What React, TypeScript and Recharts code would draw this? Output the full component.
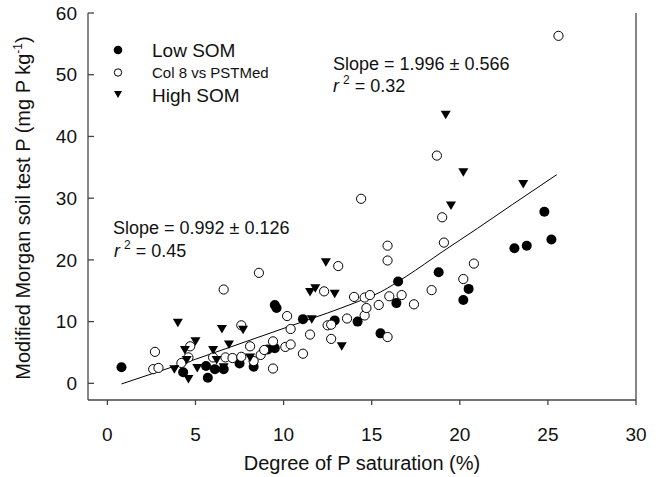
import React from 'react';
import { ScatterChart, Scatter, XAxis, YAxis, Legend } from 'recharts';

// Low SOM (filled circles)
const lowSom = [
  { x: 0.8, y: 2.6 }, { x: 4.3, y: 1.8 }, { x: 5.6, y: 2.8 }, { x: 5.7, y: 0.9 },
  { x: 6.1, y: 2.3 }, { x: 6.6, y: 2.3 }, { x: 7.5, y: 3.2 }, { x: 8.3, y: 2.7 },
  { x: 9.1, y: 5.5 }, { x: 9.5, y: 5.7 }, { x: 9.5, y: 12.7 }, { x: 9.6, y: 12.2 },
  { x: 11.1, y: 10.4 }, { x: 12.9, y: 10.2 }, { x: 14.2, y: 10.0 }, { x: 15.5, y: 8.1 },
  { x: 16.4, y: 13.0 }, { x: 16.5, y: 16.5 }, { x: 18.8, y: 18.0 }, { x: 20.2, y: 13.5 },
  { x: 20.5, y: 15.3 }, { x: 23.1, y: 21.9 }, { x: 23.8, y: 22.3 }, { x: 24.8, y: 27.8 },
  { x: 25.2, y: 23.3 },
];

// Col 8 vs PSTMed (open circles)
const col8 = [
  { x: 2.6, y: 2.3 }, { x: 2.7, y: 5.1 }, { x: 2.9, y: 2.5 }, { x: 4.2, y: 3.3 },
  { x: 4.6, y: 4.2 }, { x: 4.7, y: 6.0 }, { x: 6.0, y: 4.2 }, { x: 6.6, y: 15.2 },
  { x: 6.7, y: 4.2 }, { x: 7.1, y: 4.1 }, { x: 7.6, y: 4.3 }, { x: 7.6, y: 9.4 },
  { x: 8.1, y: 6.0 }, { x: 8.3, y: 3.6 }, { x: 8.6, y: 17.9 }, { x: 8.7, y: 4.6 },
  { x: 8.9, y: 5.4 }, { x: 9.4, y: 6.8 }, { x: 9.4, y: 2.4 }, { x: 10.1, y: 5.9 },
  { x: 10.2, y: 10.9 }, { x: 10.4, y: 6.3 }, { x: 10.4, y: 8.8 }, { x: 11.1, y: 4.8 },
  { x: 11.5, y: 7.9 }, { x: 12.3, y: 14.9 }, { x: 12.5, y: 9.4 }, { x: 12.7, y: 9.5 },
  { x: 12.7, y: 7.2 }, { x: 13.1, y: 19.0 }, { x: 13.6, y: 10.5 }, { x: 14.0, y: 14.0 },
  { x: 14.4, y: 29.9 }, { x: 14.6, y: 13.9 }, { x: 14.6, y: 11.0 }, { x: 14.7, y: 12.2 },
  { x: 14.9, y: 14.3 }, { x: 15.4, y: 12.7 }, { x: 15.9, y: 22.3 }, { x: 15.9, y: 19.9 },
  { x: 15.9, y: 7.5 }, { x: 16.0, y: 14.1 }, { x: 16.7, y: 14.3 }, { x: 17.4, y: 12.8 },
  { x: 18.4, y: 15.1 }, { x: 18.7, y: 36.9 }, { x: 19.0, y: 26.9 }, { x: 19.1, y: 22.8 },
  { x: 20.2, y: 16.9 }, { x: 20.8, y: 19.4 }, { x: 25.6, y: 56.3 },
];

// High SOM (down triangles)
const highSom = [
  { x: 3.8, y: 2.3 }, { x: 4.0, y: 9.8 }, { x: 4.4, y: 5.4 }, { x: 4.5, y: 3.8 },
  { x: 4.6, y: 0.7 }, { x: 5.0, y: 6.8 }, { x: 5.1, y: 2.5 }, { x: 6.0, y: 5.4 },
  { x: 6.2, y: 3.8 }, { x: 6.5, y: 8.8 }, { x: 6.6, y: 2.6 }, { x: 6.9, y: 6.3 },
  { x: 7.7, y: 8.7 }, { x: 8.1, y: 4.2 }, { x: 11.5, y: 14.8 }, { x: 11.6, y: 10.4 },
  { x: 11.8, y: 15.4 }, { x: 12.4, y: 19.6 }, { x: 12.9, y: 14.5 }, { x: 13.3, y: 6.0 },
  { x: 19.2, y: 43.5 }, { x: 19.5, y: 28.8 }, { x: 20.2, y: 34.2 }, { x: 23.6, y: 32.3 },
];

// fitted segmented regression curve
const fitLine = [
  { x: 0.8, y: -0.1 }, { x: 3, y: 2.0 }, { x: 5, y: 3.9 }, { x: 7, y: 5.9 },
  { x: 9, y: 7.9 }, { x: 11, y: 9.9 }, { x: 12.5, y: 11.4 }, { x: 14, y: 13.0 },
  { x: 15.5, y: 14.8 }, { x: 17, y: 17.4 }, { x: 19, y: 21.3 }, { x: 21, y: 25.1 },
  { x: 23, y: 29.0 }, { x: 25.5, y: 33.8 },
];

const xTicks = [0, 5, 10, 15, 20, 25, 30];
const yTicks = [0, 10, 20, 30, 40, 50, 60];
const xDomain = [-1.1, 30];
const yDomain = [-2.7, 60];

const FONT = '"Liberation Sans", Arial, Helvetica, sans-serif';
const AXIS = '#444';

const FilledDot = (p: any) => <circle cx={p.cx} cy={p.cy} r={5} fill="#000" />;
const OpenDot = (p: any) => (
  <circle cx={p.cx} cy={p.cy} r={4.6} fill="#fff" stroke="#000" strokeWidth={1} />
);
const DownTri = (p: any) => (
  <polygon
    points={`${p.cx - 5},${p.cy - 4} ${p.cx + 5},${p.cy - 4} ${p.cx},${p.cy + 4.5}`}
    fill="#000"
  />
);
const NoDot = () => <g />;

const renderLegend = () => (
  <svg width={220} height={76} style={{ display: 'block', fontFamily: FONT }}>
    <circle cx={18} cy={14} r={4.3} fill="#000" />
    <text x={52} y={21} fontSize={19} fill="#111">Low SOM</text>
    <circle cx={18} cy={36.5} r={3.7} fill="#fff" stroke="#000" strokeWidth={1} />
    <text x={52} y={42} fontSize={15} fill="#111">Col 8 vs PSTMed</text>
    <polygon points="14,55 22,55 18,62" fill="#000" />
    <text x={52} y={66} fontSize={19} fill="#111">High SOM</text>
  </svg>
);

export default function App() {
  const tickStyle = { fill: '#111', fontSize: 19, fontFamily: FONT };
  return (
    <div style={{ position: 'absolute', left: 0, top: 0, width: 661, height: 477, background: '#fff' }}>
      <ScatterChart
        width={661}
        height={477}
        margin={{ top: 13, right: 24, bottom: 0, left: 0 }}
      >
        <XAxis
          type="number"
          dataKey="x"
          xAxisId="b"
          domain={xDomain}
          ticks={xTicks}
          allowDataOverflow
          height={77}
          tickSize={5}
          tickMargin={23}
          tick={tickStyle}
          stroke={AXIS}
          axisLine={{ stroke: AXIS, strokeWidth: 1.3 }}
          tickLine={{ stroke: AXIS, strokeWidth: 1.3 }}
          label={{
            value: 'Degree of P saturation (%)',
            position: 'insideBottom',
            offset: 7,
            fill: '#111',
            fontSize: 20,
            fontFamily: FONT,
          }}
        />
        <XAxis
          type="number"
          xAxisId="t"
          orientation="top"
          domain={xDomain}
          allowDataOverflow
          height={0}
          tick={false}
          tickLine={false}
          axisLine={{ stroke: AXIS, strokeWidth: 1.3 }}
        />
        <YAxis
          type="number"
          dataKey="y"
          yAxisId="l"
          domain={yDomain}
          ticks={yTicks}
          allowDataOverflow
          width={88}
          tickSize={-6}
          tickMargin={17}
          tick={tickStyle}
          axisLine={{ stroke: AXIS, strokeWidth: 1.3 }}
          tickLine={{ stroke: AXIS, strokeWidth: 1.3 }}
        />
        <YAxis
          type="number"
          yAxisId="r"
          orientation="right"
          domain={yDomain}
          ticks={yTicks}
          allowDataOverflow
          width={1}
          tickSize={-6}
          tick={false}
          axisLine={{ stroke: AXIS, strokeWidth: 1.3 }}
          tickLine={{ stroke: AXIS, strokeWidth: 1.3 }}
        />
        <Legend
          layout="vertical"
          align="center"
          verticalAlign="middle"
          content={renderLegend}
          wrapperStyle={{ left: 100, top: 36, width: 220, height: 76 }}
        />
        <Scatter
          name="fit"
          data={fitLine}
          xAxisId="b"
          yAxisId="l"
          line={{ stroke: '#000', strokeWidth: 1 }}
          lineJointType="monotoneX"
          shape={NoDot}
          legendType="none"
          isAnimationActive={false}
        />
        <Scatter name="Low SOM" data={lowSom} xAxisId="b" yAxisId="l" shape={FilledDot} isAnimationActive={false} />
        <Scatter name="Col 8 vs PSTMed" data={col8} xAxisId="b" yAxisId="l" shape={OpenDot} isAnimationActive={false} />
        <Scatter name="High SOM" data={highSom} xAxisId="b" yAxisId="l" shape={DownTri} isAnimationActive={false} />
      </ScatterChart>
      <svg
        width={661}
        height={477}
        style={{ position: 'absolute', left: 0, top: 0, pointerEvents: 'none', fontFamily: FONT }}
      >
        <text transform="translate(30,208) rotate(-90)" textAnchor="middle" fontSize={20} fill="#111">
          Modified Morgan soil test P (mg P kg
          <tspan dy={-8} fontSize={12}>-1</tspan>
          <tspan dy={8}>)</tspan>
        </text>
        <text x={333} y={69.5} fontSize={18} fill="#111">Slope = 1.996 ± 0.566</text>
        <text x={333} y={92} fontSize={18} fill="#111">
          <tspan fontStyle="italic">r</tspan>
          <tspan dx={4} dy={-8} fontSize={12}>2</tspan>
          <tspan dx={5} dy={8}>= 0.32</tspan>
        </text>
        <text x={113} y={234} fontSize={18} fill="#111">Slope = 0.992 ± 0.126</text>
        <text x={114} y={256.5} fontSize={18} fill="#111">
          <tspan fontStyle="italic">r</tspan>
          <tspan dx={4} dy={-8} fontSize={12}>2</tspan>
          <tspan dx={5} dy={8}>= 0.45</tspan>
        </text>
      </svg>
    </div>
  );
}
